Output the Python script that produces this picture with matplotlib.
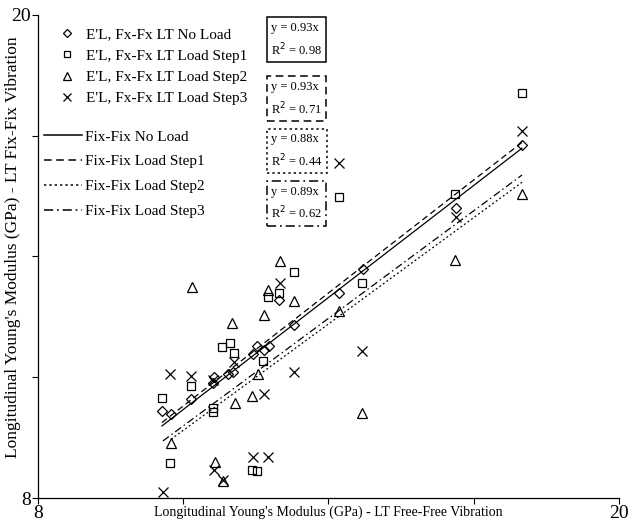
import numpy as np
import matplotlib.pyplot as plt
from matplotlib.lines import Line2D

plt.rcParams['font.family'] = ['Liberation Serif', 'DejaVu Serif']

# free-free (x) vs fix-fix (y) modulus, GPa
x_noload = [10.56, 10.75, 11.16, 11.62, 11.64, 11.93, 12.03, 12.44, 12.52, 12.67,
            12.77, 12.98, 13.29, 14.22, 14.71, 16.64, 18.00]
y_noload = [10.16, 10.09, 10.46, 10.86, 11.01, 11.08, 11.13, 11.58, 11.78, 11.68,
            11.78, 12.92, 12.30, 13.09, 13.69, 15.20, 16.77]

x_step1 = [10.56, 11.16, 11.62, 11.62, 11.80, 11.97, 12.05, 12.65, 12.75, 12.98,
           13.29, 10.73, 12.42, 12.52, 14.69, 14.22, 16.62, 18.00]
y_step1 = [10.48, 10.78, 10.24, 10.14, 11.75, 11.85, 11.60, 11.40, 12.99, 13.09,
           13.61, 8.87, 8.70, 8.67, 13.34, 15.48, 15.55, 18.06]

x_step2 = [11.18, 10.75, 11.66, 11.82, 12.07, 13.00, 12.75, 13.29, 12.67, 12.01,
           12.55, 12.42, 14.22, 14.69, 16.62, 18.00]
y_step2 = [13.24, 9.37, 8.89, 8.42, 10.36, 13.89, 13.17, 12.89, 12.55, 12.35,
           11.08, 10.53, 12.65, 10.11, 13.91, 15.55]

x_step3 = [10.58, 11.64, 11.82, 12.44, 12.75, 10.73, 11.16, 12.05, 11.62, 13.00,
           13.29, 12.67, 14.69, 14.22, 18.00, 16.64]
y_step3 = [8.15, 8.70, 8.45, 9.02, 9.02, 11.08, 11.03, 11.38, 10.93, 13.34,
           11.13, 10.58, 11.65, 16.32, 17.12, 14.98]

# trend lines through origin (unrounded slopes), and the printed values
slopes_fit = [0.927, 0.935, 0.880, 0.890]
slopes = [0.93, 0.93, 0.88, 0.89]
r2 = [0.98, 0.71, 0.44, 0.62]

point_labels = ["E'L, Fx-Fx LT No Load", "E'L, Fx-Fx LT Load Step1",
                "E'L, Fx-Fx LT Load Step2", "E'L, Fx-Fx LT Load Step3"]
line_labels = ['Fix-Fix No Load', 'Fix-Fix Load Step1',
               'Fix-Fix Load Step2', 'Fix-Fix Load Step3']

xs = [x_noload, x_step1, x_step2, x_step3]
ys = [y_noload, y_step1, y_step2, y_step3]
markers = ['D', 's', '^', 'x']
msizes = [5, 5.5, 6.5, 6.5]
styles = ['-', (0, (5, 3)), (0, (1.5, 2)), (0, (6, 2.5, 1.2, 2.5))]

fig = plt.figure(figsize=(6.34, 5.27), dpi=100)
ax = fig.add_axes([0.06, 0.055, 0.916, 0.917])

for x, y, m, ms in zip(xs, ys, markers, msizes):
    ax.plot(x, y, linestyle='none', marker=m, ms=ms, mfc='none', mec='black', mew=0.9)

for x, k, ls in zip(xs, slopes_fit, styles):
    xx = np.array([min(x), max(x)])
    ax.plot(xx, k * xx, color='black', lw=0.9, linestyle=ls)

ax.set_xlim(8, 20)
ax.set_ylim(8, 20)
ax.set_xticks([8, 11, 14, 17, 20])
ax.set_yticks([8, 11, 14, 17, 20])
ax.set_xticklabels(['8', '', '', '', '20'])
ax.set_yticklabels(['8', '', '', '', '20'])
ax.tick_params(labelsize=14, length=4, width=0.8, pad=1)
for s in ['top', 'right']:
    ax.spines[s].set_visible(False)
for s in ['left', 'bottom']:
    ax.spines[s].set_linewidth(0.9)

ax.set_xlabel("Longitudinal Young's Modulus (GPa) - LT Free-Free Vibration",
              fontsize=10, labelpad=-12)
ax.set_ylabel("Longitudinal Young's Modulus (GPa) - LT Fix-Fix Vibration",
              fontsize=12.5)
ax.yaxis.set_label_coords(-0.03, 0.52)

pt_handles = [Line2D([], [], linestyle='none', marker=m, ms=ms * 0.85, mfc='none',
                     mec='black', mew=0.9) for m, ms in zip(markers, msizes)]
leg1 = ax.legend(pt_handles, point_labels, loc='upper left', bbox_to_anchor=(0.026, 0.986),
                 frameon=False, fontsize=11, handlelength=1.0, handletextpad=0.75,
                 labelspacing=0.5, borderaxespad=0)
ax.add_artist(leg1)
ln_handles = [Line2D([], [], color='black', lw=1.1, linestyle=ls) for ls in styles]
ax.legend(ln_handles, line_labels, loc='upper left', bbox_to_anchor=(0.0, 0.774),
          frameon=False, fontsize=11, handlelength=2.5, handletextpad=0.15,
          labelspacing=0.72, borderaxespad=0)

box_y = [0.948, 0.826, 0.718, 0.609]
for k, r, ls, by in zip(slopes, r2, styles, box_y):
    ax.text(0.401, by, 'y = %.2fx\nR$^2$ = %.2f' % (k, r), transform=ax.transAxes,
            fontsize=9, va='center', ha='left', linespacing=1.55,
            bbox=dict(boxstyle='square,pad=0.35', fc='white', ec='black', lw=1.1, linestyle=ls))

fig.savefig('out.png', dpi=100)
